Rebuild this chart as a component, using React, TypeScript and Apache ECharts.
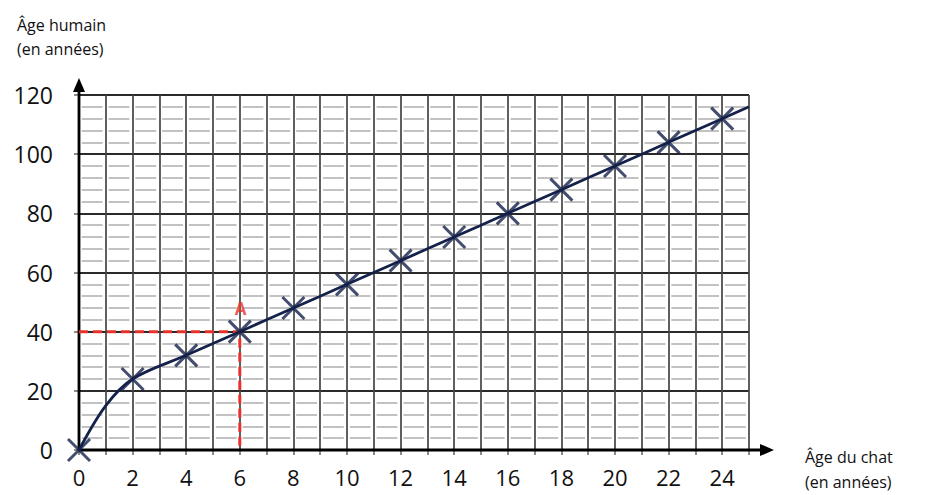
import React, { useEffect, useRef } from "react";
import * as echarts from "echarts";

const catAges = [0, 2, 4, 6, 8, 10, 12, 14, 16, 18, 20, 22, 24];
const humanAges = [0, 24, 32, 40, 48, 56, 64, 72, 80, 88, 96, 104, 112];
// curve points (with intermediate bend near the origin and extension to 25)
const curveX = [0, 1, 2, 4, 6, 8, 10, 12, 14, 16, 18, 20, 22, 24, 25];
const curveY = [0, 15, 24, 32, 40, 48, 56, 64, 72, 80, 88, 96, 104, 112, 116];
const pointA = [6, 40];
const yTicks = [0, 20, 40, 60, 80, 100, 120];
const xMax = 25;

const NAVY = "#14214a";
const RED = "#e8312b";
const FONT = "'Open Sans', 'DejaVu Sans', sans-serif";

export default function App() {
  const ref = useRef<HTMLDivElement>(null);
  useEffect(() => {
    const chart = echarts.init(ref.current!, null, { renderer: "svg" });
    const cell = (925 - 79 - 176) / xMax;
    const option: any = {
      animation: false,
      grid: { left: 79, right: 176, top: 95, bottom: 45 },
      xAxis: {
        type: "value",
        min: 0,
        max: xMax,
        interval: 1,
        axisLine: { show: false },
        axisTick: { show: true, length: 5, lineStyle: { color: "#666", width: 1.5 } },
        axisLabel: {
          margin: 16,
          fontSize: 22,
          fontFamily: FONT,
          color: "#111",
          formatter: (v: number) => (v % 2 === 0 && v <= 24 ? String(v) : ""),
        },
        splitLine: { show: true, lineStyle: { color: "#444", width: 1.7 } },
      },
      yAxis: {
        type: "value",
        min: yTicks[0],
        max: yTicks[yTicks.length - 1],
        interval: 20,
        axisLine: { show: false },
        axisTick: { show: true, length: 5, lineStyle: { color: "#666", width: 1.5 } },
        axisLabel: { margin: 26, fontSize: 23, fontFamily: FONT, color: "#111" },
        splitLine: { show: true, lineStyle: { color: "#2a2a2a", width: 1.8 } },
        minorTick: { show: false, splitNumber: 5 },
        minorSplitLine: {
          show: true,
          lineStyle: {
            color: "#c2c2c2",
            width: 2,
            type: [cell - 6, 6],
            dashOffset: cell - 3,
          },
        },
      },
      series: [
        {
          type: "line",
          data: [
            [0, pointA[1]],
            [pointA[0], pointA[1]],
            [pointA[0], 0],
          ],
          symbol: "none",
          lineStyle: { color: RED, width: 3, type: [9, 5] },
          z: 3,
          silent: true,
        },
        {
          type: "line",
          data: curveX.map((x, i) => [x, curveY[i]]),
          symbol: "none",
          smooth: 0.35,
          lineStyle: { color: NAVY, width: 2.8 },
          z: 4,
          silent: true,
        },
        {
          type: "scatter",
          data: catAges.map((x, i) => [x, humanAges[i]]),
          symbol: "path://M0,0L10,10M10,0L0,10",
          symbolSize: 22,
          itemStyle: { color: "rgba(0,0,0,0)", borderColor: NAVY, borderWidth: 3 },
          z: 5,
          silent: true,
        },
        {
          type: "scatter",
          data: [pointA],
          symbolSize: 0,
          label: {
            show: true,
            formatter: "A",
            position: [-5, -32],
            color: RED,
            fontSize: 17,
            fontWeight: "bold",
            fontFamily: FONT,
          },
          z: 6,
          silent: true,
        },
      ],
    };
    chart.setOption(option);

    const o = chart.convertToPixel({ gridIndex: 0 }, [0, 0]) as number[];
    const top = chart.convertToPixel({ gridIndex: 0 }, [0, yTicks[yTicks.length - 1]]) as number[];
    const right = chart.convertToPixel({ gridIndex: 0 }, [xMax, 0]) as number[];
    const yEnd = top[1] - 17;
    const xEnd = right[0] + 25;
    const ah = 14;
    const aw = 6;
    chart.setOption({
      graphic: [
        {
          type: "line",
          z: 1,
          shape: { x1: o[0], y1: o[1], x2: o[0], y2: yEnd + ah - 2 },
          style: { stroke: "#000", lineWidth: 2.8 },
        },
        {
          type: "polygon",
          z: 1,
          shape: { points: [[o[0], yEnd], [o[0] - aw, yEnd + ah], [o[0] + aw, yEnd + ah]] },
          style: { fill: "#000" },
        },
        {
          type: "line",
          z: 1,
          shape: { x1: o[0], y1: o[1], x2: xEnd - ah + 2, y2: o[1] },
          style: { stroke: "#000", lineWidth: 2.8 },
        },
        {
          type: "polygon",
          z: 1,
          shape: { points: [[xEnd, o[1]], [xEnd - ah, o[1] - aw], [xEnd - ah, o[1] + aw]] },
          style: { fill: "#000" },
        },
        {
          type: "text",
          left: 17,
          top: 13,
          style: {
            text: "Âge humain\n(en années)",
            font: `16px ${FONT}`,
            fill: "#111",
            lineHeight: 24,
          },
        },
        {
          type: "text",
          left: 805,
          top: 444,
          style: {
            text: "Âge du chat\n(en années)",
            font: `16px ${FONT}`,
            fill: "#111",
            lineHeight: 25,
          },
        },
      ],
    });
    return () => chart.dispose();
  }, []);
  return (
    <div
      ref={ref}
      style={{ position: "absolute", left: 0, top: 0, width: 925, height: 495, background: "#fff" }}
    />
  );
}
